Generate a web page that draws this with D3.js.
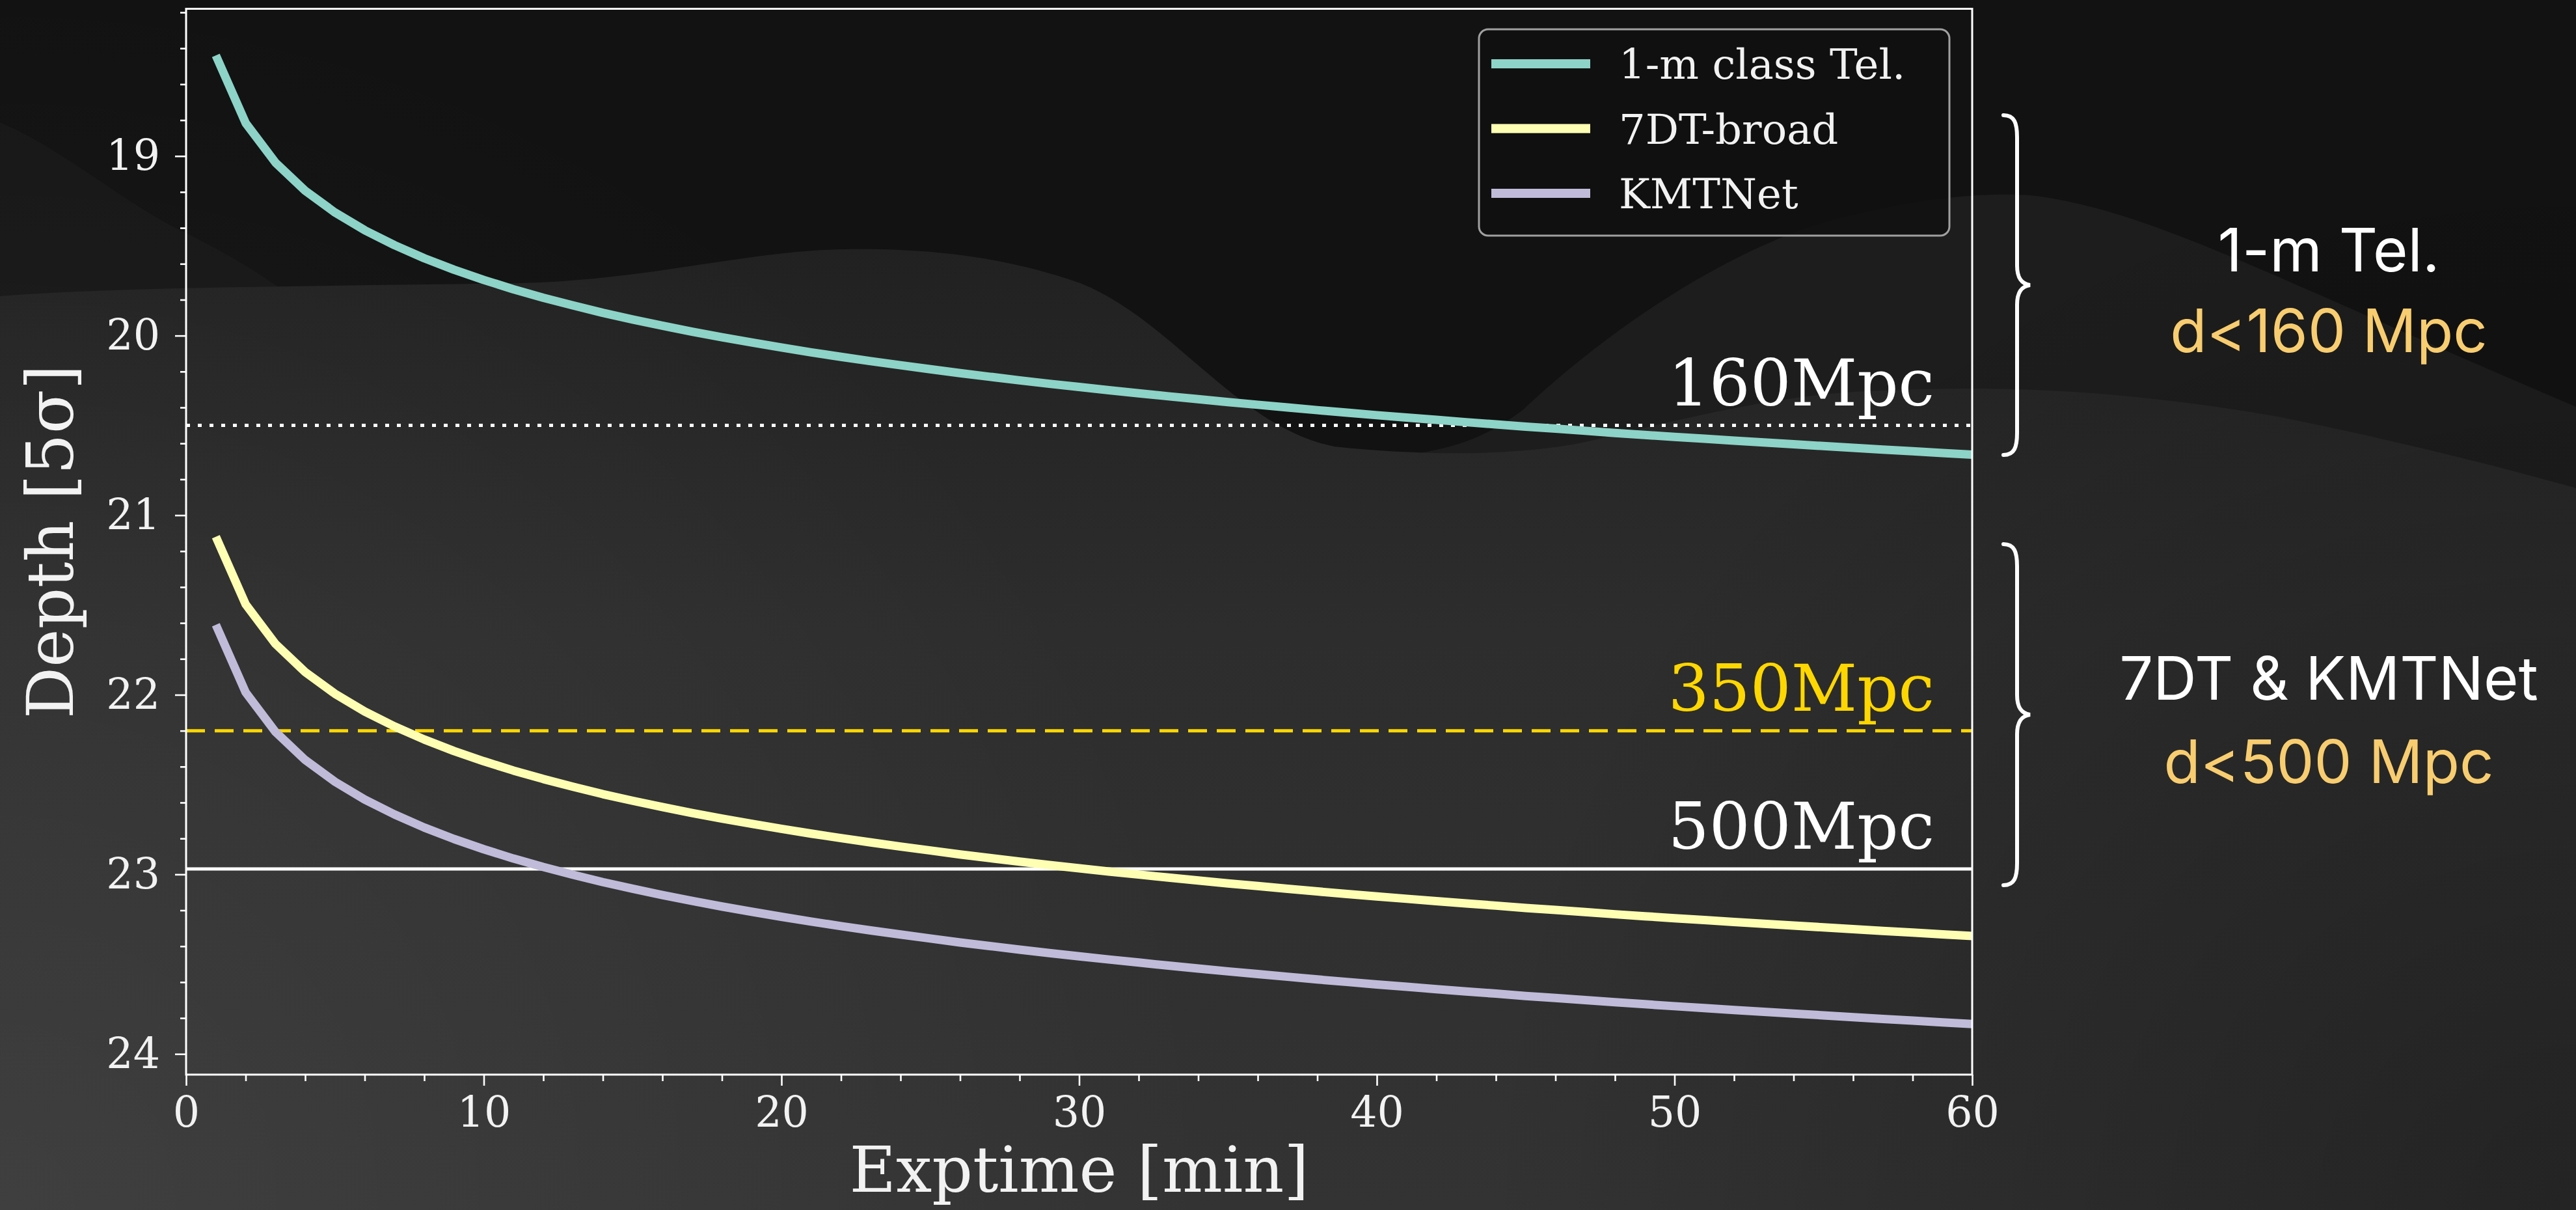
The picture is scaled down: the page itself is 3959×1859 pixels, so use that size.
<!DOCTYPE html>
<html>
<head>
<meta charset="utf-8">
<script src="https://cdn.jsdelivr.net/npm/d3@7"></script>
<style>
  html, body { margin: 0; padding: 0; background: #121212; overflow: hidden; }
  svg { display: block; }
</style>
</head>
<body>
<svg id="chart" width="3959" height="1859"></svg>
<script>
// ---- Data: 5-sigma limiting depth versus exposure time ----
const exptime = [1, 2, 3, 4, 5, 6, 7, 8, 9, 10, 11, 12, 13, 14, 15, 16, 17, 18, 19, 20,
  21, 22, 23, 24, 25, 26, 27, 28, 29, 30, 31, 32, 33, 34, 35, 36, 37, 38, 39, 40,
  41, 42, 43, 44, 45, 46, 47, 48, 49, 50, 51, 52, 53, 54, 55, 56, 57, 58, 59, 60];

const depthOneMeter = [18.440, 18.816, 19.036, 19.193, 19.314, 19.413, 19.496, 19.569, 19.633, 19.690,
  19.742, 19.789, 19.832, 19.873, 19.910, 19.945, 19.978, 20.009, 20.038, 20.066,
  20.093, 20.118, 20.142, 20.165, 20.187, 20.209, 20.229, 20.249, 20.268, 20.286,
  20.304, 20.321, 20.338, 20.354, 20.370, 20.385, 20.400, 20.415, 20.429, 20.443,
  20.456, 20.469, 20.482, 20.494, 20.507, 20.518, 20.530, 20.542, 20.553, 20.564,
  20.574, 20.585, 20.595, 20.605, 20.615, 20.625, 20.635, 20.644, 20.654, 20.663];

const depth7DT = [21.120, 21.496, 21.716, 21.873, 21.994, 22.093, 22.176, 22.249, 22.313, 22.370,
  22.422, 22.469, 22.512, 22.553, 22.590, 22.625, 22.658, 22.689, 22.718, 22.746,
  22.773, 22.798, 22.822, 22.845, 22.867, 22.889, 22.909, 22.929, 22.948, 22.966,
  22.984, 23.001, 23.018, 23.034, 23.050, 23.065, 23.080, 23.095, 23.109, 23.123,
  23.136, 23.149, 23.162, 23.174, 23.187, 23.198, 23.210, 23.222, 23.233, 23.244,
  23.254, 23.265, 23.275, 23.285, 23.295, 23.305, 23.315, 23.324, 23.334, 23.343];

const depthKMTNet = [21.610, 21.986, 22.206, 22.363, 22.484, 22.583, 22.666, 22.739, 22.803, 22.860,
  22.912, 22.959, 23.002, 23.043, 23.080, 23.115, 23.148, 23.179, 23.208, 23.236,
  23.263, 23.288, 23.312, 23.335, 23.357, 23.379, 23.399, 23.419, 23.438, 23.456,
  23.474, 23.491, 23.508, 23.524, 23.540, 23.555, 23.570, 23.585, 23.599, 23.613,
  23.626, 23.639, 23.652, 23.664, 23.677, 23.688, 23.700, 23.712, 23.723, 23.734,
  23.744, 23.755, 23.765, 23.775, 23.785, 23.795, 23.805, 23.814, 23.824, 23.833];

const seriesNames = ["1-m class Tel.", "7DT-broad", "KMTNet"];
const seriesColors = ["#8dd3c7", "#feffb3", "#bfbbd9"];

// distance limits drawn as horizontal reference lines
const limitLabels = ["160Mpc", "350Mpc", "500Mpc"];
const limitDepths = [20.5, 22.2, 22.97];
const limitColors = ["#ffffff", "#ffd700", "#ffffff"];
const limitDashes = ["6,12", "29,15", null];

const xTicks = [0, 10, 20, 30, 40, 50, 60];
const yTicks = [19, 20, 21, 22, 23, 24];

// ---- Layout ----
const W = 3959, H = 1859;
const plot = { left: 286, right: 3031, top: 13.5, bottom: 1651 };
const serif = "'DejaVu Serif', 'Liberation Serif', serif";
const sans = "Inter, 'Open Sans', 'Noto Sans', sans-serif";

const svg = d3.select("#chart");

// ---- Backdrop: dark slide with soft grey hills ----
const defs = svg.append("defs");
const lower = defs.append("linearGradient").attr("id", "lowerFill")
  .attr("gradientUnits", "userSpaceOnUse")
  .attr("x1", 0).attr("y1", 380).attr("x2", 0).attr("y2", 1859);
lower.append("stop").attr("offset", "0%").attr("stop-color", "#212121");
lower.append("stop").attr("offset", "40%").attr("stop-color", "#2d2d2d");
lower.append("stop").attr("offset", "100%").attr("stop-color", "#333333");

const glowL = defs.append("radialGradient").attr("id", "glowL")
  .attr("gradientUnits", "userSpaceOnUse").attr("cx", 0).attr("cy", 1859).attr("r", 1900);
glowL.append("stop").attr("offset", "0%").attr("stop-color", "#ffffff").attr("stop-opacity", 0.06);
glowL.append("stop").attr("offset", "100%").attr("stop-color", "#ffffff").attr("stop-opacity", 0);

const shadeR = defs.append("radialGradient").attr("id", "shadeR")
  .attr("gradientUnits", "userSpaceOnUse").attr("cx", 3959).attr("cy", 1859).attr("r", 1700);
shadeR.append("stop").attr("offset", "0%").attr("stop-color", "#000000").attr("stop-opacity", 0.3);
shadeR.append("stop").attr("offset", "100%").attr("stop-color", "#000000").attr("stop-opacity", 0);

const bg = svg.append("g").attr("class", "backdrop");
bg.append("rect").attr("width", W).attr("height", H).attr("fill", "#121212");
bg.append("path").attr("fill", "#171717")
  .attr("d", "M0,188 C100,230 200,320 290,360 C350,390 400,420 440,450 L0,470 Z");
bg.append("path").attr("fill", "#1d1d1d")
  .attr("d", "M2150,700 C2250,690 2300,660 2340,630 C2500,480 2700,360 2850,330 C2950,305 3050,295 3120,300 C3300,320 3500,430 3959,625 L3959,1859 L2150,1859 Z");
bg.append("path").attr("fill", "url(#lowerFill)")
  .attr("d", "M0,455 C200,440 500,440 800,435 C1000,430 1150,385 1300,383 C1450,381 1560,400 1660,435 C1800,490 1900,655 2050,686 C2200,702 2350,700 2450,676 C2600,640 2750,602 2900,600 C3100,590 3300,605 3500,640 C3700,680 3850,720 3959,750 L3959,1859 L0,1859 Z");
bg.append("rect").attr("width", W).attr("height", H).attr("fill", "url(#glowL)");
bg.append("rect").attr("width", W).attr("height", H).attr("fill", "url(#shadeR)");

// ---- Scales ----
const x = d3.scaleLinear().domain([0, 60]).range([plot.left, plot.right]);
const y = d3.scaleLinear().domain([18.18, 24.115]).range([plot.top, plot.bottom]);

// ---- Axes ----
const axisColor = "#ffffff";
const xMinor = d3.range(2, 60, 2).filter(v => v % 10 !== 0);
const yMinor = d3.range(18.2, 24.11, 0.2).map(v => +v.toFixed(1)).filter(v => Math.abs(v - Math.round(v)) > 1e-6);

function styleAxis(g) {
  g.select(".domain").remove();
  g.selectAll(".tick line").attr("stroke", axisColor).attr("stroke-width", 2.6);
  g.selectAll(".tick text").attr("fill", "#f2f2f2")
    .style("font-family", serif).style("font-size", "65px");
}

svg.append("g").attr("transform", `translate(0,${plot.bottom})`)
  .call(d3.axisBottom(x).tickValues(xMinor).tickSize(10).tickFormat(""))
  .call(styleAxis);
svg.append("g").attr("transform", `translate(0,${plot.bottom})`)
  .call(d3.axisBottom(x).tickValues(xTicks).tickSize(17).tickPadding(17).tickFormat(d3.format("d")))
  .call(styleAxis);
svg.append("g").attr("transform", `translate(${plot.left},0)`)
  .call(d3.axisLeft(y).tickValues(yMinor).tickSize(9).tickFormat(""))
  .call(styleAxis);
svg.append("g").attr("transform", `translate(${plot.left},0)`)
  .call(d3.axisLeft(y).tickValues(yTicks).tickSize(17).tickPadding(23).tickFormat(d3.format("d")))
  .call(styleAxis);

// ---- Reference distance limits ----
const limits = svg.append("g").attr("class", "limits");
limitDepths.forEach((d, i) => {
  limits.append("line")
    .attr("x1", x(0)).attr("x2", x(60))
    .attr("y1", y(d)).attr("y2", y(d))
    .attr("stroke", limitColors[i]).attr("stroke-width", 5)
    .attr("stroke-dasharray", limitDashes[i]);
  limits.append("text")
    .attr("x", plot.right - 58).attr("y", y(d) - 31)
    .attr("text-anchor", "end")
    .attr("fill", limitColors[i])
    .style("font-family", serif).style("font-size", "99px")
    .text(limitLabels[i]);
});

// ---- Depth curves ----
const seriesValues = [depthOneMeter, depth7DT, depthKMTNet];
const line = d3.line().x(d => x(d[0])).y(d => y(d[1]));
const curves = svg.append("g").attr("class", "curves");
seriesValues.forEach((vals, i) => {
  curves.append("path")
    .datum(exptime.map((t, k) => [t, vals[k]]))
    .attr("d", line)
    .attr("fill", "none")
    .attr("stroke", seriesColors[i])
    .attr("stroke-width", 13)
    .attr("stroke-linejoin", "round");
});

// ---- Frame (spines) ----
svg.append("rect")
  .attr("x", plot.left).attr("y", plot.top)
  .attr("width", plot.right - plot.left).attr("height", plot.bottom - plot.top)
  .attr("fill", "none").attr("stroke", axisColor).attr("stroke-width", 3);

// ---- Legend ----
const legend = svg.append("g").attr("class", "legend");
legend.append("rect")
  .attr("x", 2273).attr("y", 45).attr("width", 723).attr("height", 317).attr("rx", 14)
  .attr("fill", "#111111").attr("fill-opacity", 0.85)
  .attr("stroke", "#a0a0a0").attr("stroke-width", 3);
seriesNames.forEach((name, i) => {
  const cy = 98 + 99.5 * i;
  legend.append("line")
    .attr("x1", 2292).attr("x2", 2444).attr("y1", cy).attr("y2", cy)
    .attr("stroke", seriesColors[i]).attr("stroke-width", 14);
  legend.append("text")
    .attr("x", 2488).attr("y", cy).attr("dy", "0.36em")
    .attr("fill", "#f2f2f2")
    .style("font-family", serif).style("font-size", "64px")
    .text(name);
});

// ---- Axis titles ----
svg.append("text")
  .attr("x", (plot.left + plot.right) / 2).attr("y", 1831)
  .attr("text-anchor", "middle").attr("fill", "#f2f2f2")
  .style("font-family", serif).style("font-size", "98px")
  .text("Exptime [min]");
svg.append("text")
  .attr("transform", `translate(112,${(plot.top + plot.bottom) / 2}) rotate(-90)`)
  .attr("text-anchor", "middle").attr("fill", "#f2f2f2")
  .style("font-family", serif).style("font-size", "99px")
  .text("Depth [5σ]");

// ---- Group annotations on the right ----
const notes = svg.append("g").attr("class", "notes");
function brace(top, bottom) {
  const mid = (top + bottom) / 2;
  const xo = 3079, xs = 3100, xt = 3120;
  return `M${xo},${top} C${xs - 4},${top} ${xs},${top + 12} ${xs},${top + 34}
          L${xs},${mid - 30} C${xs},${mid - 12} ${xs + 6},${mid - 2} ${xt},${mid}
          C${xs + 6},${mid + 2} ${xs},${mid + 12} ${xs},${mid + 30}
          L${xs},${bottom - 34} C${xs},${bottom - 12} ${xs - 4},${bottom} ${xo},${bottom}`;
}
notes.append("path").attr("d", brace(177, 699))
  .attr("fill", "none").attr("stroke", "#ffffff").attr("stroke-width", 6).attr("stroke-linecap", "round");
notes.append("path").attr("d", brace(836, 1360))
  .attr("fill", "none").attr("stroke", "#ffffff").attr("stroke-width", 6).attr("stroke-linecap", "round");

const noteText = [
  { t: "1-m Tel.", y: 417, c: "#ffffff" },
  { t: "d<160 Mpc", y: 541, c: "#f8cd70" },
  { t: "7DT & KMTNet", y: 1075, c: "#ffffff" },
  { t: "d<500 Mpc", y: 1203, c: "#f8cd70" }
];
noteText.forEach(n => {
  notes.append("text")
    .attr("x", 3579).attr("y", n.y)
    .attr("text-anchor", "middle").attr("fill", n.c)
    .style("font-family", sans).style("font-size", "92px")
    .text(n.t);
});
</script>
</body>
</html>
